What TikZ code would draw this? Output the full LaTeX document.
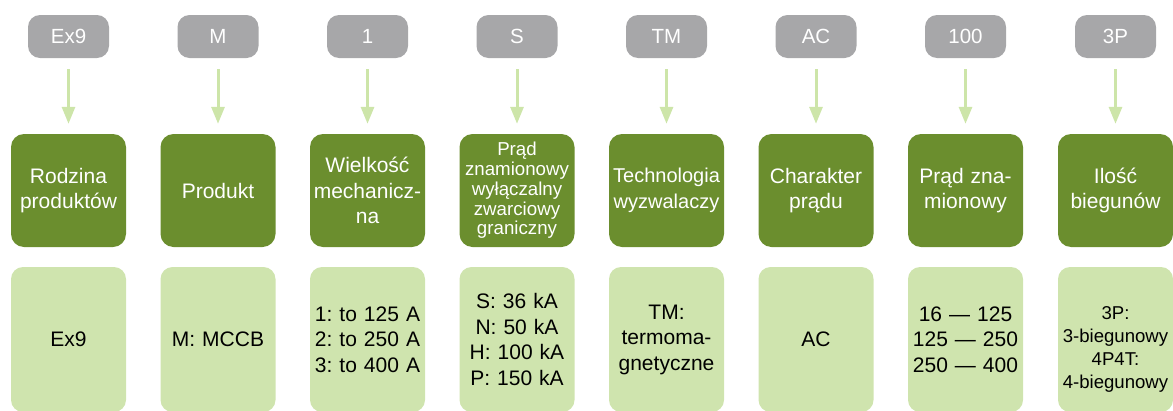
\documentclass[tikz,border=0pt]{standalone}
\usepackage{fontspec}
\setmainfont{Liberation Sans}
\usetikzlibrary{arrows.meta}
\definecolor{dkgreen}{HTML}{6B8E2E}
\definecolor{ltgreen}{HTML}{CFE4AE}
\definecolor{gbox}{HTML}{A7A7A9}
\definecolor{arrowc}{HTML}{CDE5A9}
\frenchspacing
\begin{document}
\begin{tikzpicture}[x=1pt,y=-1pt,
 codebox/.style={fill=gbox, rounded corners=12pt, minimum width=81pt, minimum height=43pt, text=white, font=\fontsize{20.5}{24}\selectfont, inner sep=0pt},
 catbox/.style={fill=dkgreen, rounded corners=13pt, minimum width=115pt, minimum height=113pt, text width=115pt, text=white, align=center, font=\fontsize{21}{25.5}\selectfont, inner sep=0pt},
 valbox/.style={fill=ltgreen, rounded corners=12pt, minimum width=115pt, minimum height=145pt, text width=115pt, text=black, align=center, font=\fontsize{21}{25.5}\selectfont, inner sep=0pt},
 link/.style={draw=arrowc, line width=3pt, -{Triangle[width=13pt,length=17pt]}, shorten <=11pt, shorten >=10pt}]
\useasboundingbox (0,0) rectangle (1173,410);
% codes
\node[codebox] (g1) at (68.5,36.5) {Ex9};
\node[codebox] (g2) at (218,36.5) {M};
\node[codebox] (g3) at (367.5,36.5) {1};
\node[codebox] (g4) at (517,36.5) {S};
\node[codebox] (g5) at (666.5,36.5) {TM};
\node[codebox] (g6) at (816,36.5) {AC};
\node[codebox] (g7) at (965.5,36.5) {100};
\node[codebox] (g8) at (1115.5,36.5) {3P};
% categories
\node[catbox] (c1) at (68.5,190.5) {Rodzina\\produktów};
\node[catbox] (c2) at (218,190.5) {Produkt};
\node[catbox] (c3) at (367.5,190.5) {Wielkość\\mechanicz-\\na};
\node[catbox, font=\fontsize{18.7}{19.7}\selectfont] (c4) at (517,190.5) {Prąd\\znamionowy\\wyłączalny\\zwarciowy\\graniczny};
\node[catbox, font=\fontsize{20}{25.5}\selectfont] (c5) at (666.5,190.5) {Technologia\\wyzwalaczy};
\node[catbox] (c6) at (816,190.5) {Charakter\\prądu};
\node[catbox] (c7) at (965.5,190.5) {Prąd zna-\\mionowy};
\node[catbox] (c8) at (1115.5,190.5) {Ilość\\biegunów};
% values
\node[valbox] (v1) at (68.5,339.5) {Ex9};
\node[valbox] (v2) at (218,339.5) {M: MCCB};
\node[valbox] (v3) at (367.5,339.5) {1: to 125 A\\2: to 250 A\\3: to 400 A};
\node[valbox] (v4) at (517,339.5) {S: 36 kA\\N: 50 kA\\H: 100 kA\\P: 150 kA};
\node[valbox] (v5) at (666.5,339.5) {TM:\\termoma-\\gnetyczne};
\node[valbox] (v6) at (816,339.5) {AC};
\node[valbox] (v7) at (965.5,339.5) {16 — 125\\125 — 250\\250 — 400};
\node[valbox] (v8) at (1115.5,339.5) {};
\node[font=\fontsize{18.6}{23}\selectfont, align=center, inner sep=0pt] (t8) at (1115.5,349.5) {3P:\\3-biegunowy\\4P4T:\\4-biegunowy};
% arrows
\foreach \i in {1,...,8} {\draw[link] (g\i) -- (c\i);}
\end{tikzpicture}
\end{document}
